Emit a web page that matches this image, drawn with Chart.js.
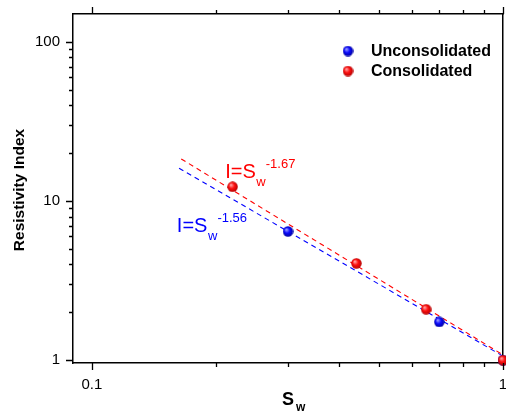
<!DOCTYPE html>
<html>
<head>
<meta charset="utf-8">
<script src="https://cdn.jsdelivr.net/npm/chart.js@4/dist/chart.umd.min.js"></script>
<style>
    html, body { margin: 0; padding: 0; background: #fff; overflow: hidden; }
    #wrap { width: 506px; height: 415px; }
    canvas { display: block; }
</style>
</head>
<body>
<div id="wrap"><canvas id="riChart"></canvas></div>
<script>
// Resistivity index vs water saturation (log-log)
const unconsolidatedSw = [0.30, 0.70, 1.0];
const unconsolidatedRI = [6.45, 1.74, 1.0];
const consolidatedSw = [0.22, 0.44, 0.65, 1.0];
const consolidatedRI = [12.3, 4.06, 2.09, 1.0];

// Power-law fit lines (end points)
const fitUnconSw = [0.163, 1.0];
const fitUnconRI = [16.1, 1.06];
const fitConSw = [0.165, 1.0];
const fitConRI = [18.4, 1.08];

// Tick values
const xTickValues = [0.1, 0.2, 0.3, 0.4, 0.5, 0.6, 0.7, 0.8, 0.9, 1];
const xTickLabels = [0.1, 1];
const yTickValues = [1, 2, 3, 4, 5, 6, 7, 8, 9, 10, 20, 30, 40, 50, 60, 70, 80, 90, 100];
const yTickLabels = [1, 10, 100];

const FONT = '"Liberation Sans", Arial, sans-serif';

// Small shaded ball used as point marker
function makeBall(base, light, dark) {
    const c = document.createElement('canvas');
    c.width = 11;
    c.height = 11;
    const g = c.getContext('2d');
    const grad = g.createRadialGradient(3.8, 3.6, 0.5, 5.5, 5.5, 5.5);
    grad.addColorStop(0, light);
    grad.addColorStop(0.45, base);
    grad.addColorStop(1, dark);
    g.fillStyle = grad;
    g.beginPath();
    g.arc(5.5, 5.5, 5.2, 0, Math.PI * 2);
    g.fill();
    return c;
}

const blueBall = makeBall('#0a0aff', '#9a9aff', '#00009a');
const redBall = makeBall('#ff1010', '#ffa0a0', '#b00000');

function toPoints(xs, ys) {
    return xs.map((x, i) => ({ x: x, y: ys[i] }));
}

// keep the plot box fixed, no extra room for edge labels
const noPadding = () => ({ left: 0, top: 0, right: 0, bottom: 0 });
function fixX(h) {
    return s => { s.height = h; s.paddingLeft = 0; s.paddingRight = 0; s.getPadding = noPadding; };
}
function fixY(w) {
    return s => { s.width = w; s.paddingTop = 0; s.paddingBottom = 0; s.getPadding = noPadding; };
}

// Ticks, legend, axis titles and fit labels
const decorPlugin = {
    id: 'decor',
    afterDraw(chart) {
        const ctx = chart.ctx;
        const area = chart.chartArea;
        const xs = chart.scales.x;
        const ys = chart.scales.y;
        ctx.save();
        ctx.strokeStyle = '#000';
        ctx.lineWidth = 1.3;
        ctx.beginPath();
        xTickValues.forEach(v => {
            const px = Math.round(xs.getPixelForValue(v)) + 0.5;
            const len = xTickLabels.includes(v) ? 7 : 4;
            ctx.moveTo(px, area.bottom);
            ctx.lineTo(px, area.bottom + len);
            ctx.moveTo(px, area.top);
            ctx.lineTo(px, area.top - len);
        });
        yTickValues.forEach(v => {
            const py = Math.round(ys.getPixelForValue(v)) + 0.5;
            const len = yTickLabels.includes(v) ? 7 : 4;
            ctx.moveTo(area.left, py);
            ctx.lineTo(area.left - len, py);
        });
        ctx.stroke();

        // legend
        const items = [chart.data.datasets[0], chart.data.datasets[1]];
        ctx.textBaseline = 'middle';
        ctx.font = 'bold 16px ' + FONT;
        ctx.fillStyle = '#000';
        items.forEach((ds, i) => {
            const y = 51 + i * 20;
            ctx.drawImage(ds.pointStyle, 348 - 5.5, y - 5.5);
            ctx.fillText(ds.label, 371, y + 1);
        });

        // y title
        ctx.save();
        ctx.translate(24, 190);
        ctx.rotate(-Math.PI / 2);
        ctx.textAlign = 'center';
        ctx.textBaseline = 'alphabetic';
        ctx.font = 'bold 15.5px ' + FONT;
        ctx.fillText('Resistivity Index', 0, 0);
        ctx.restore();

        // x title S_w
        ctx.textBaseline = 'alphabetic';
        ctx.textAlign = 'left';
        ctx.font = 'bold 18px ' + FONT;
        ctx.fillText('S', 282, 405);
        ctx.font = 'bold 12px ' + FONT;
        ctx.fillText('w', 296, 411);

        // fit equations
        drawEquation(ctx, xs.getPixelForValue(0.211), ys.getPixelForValue(13.95), '-1.67', '#ff0000');
        drawEquation(ctx, xs.getPixelForValue(0.161), ys.getPixelForValue(6.38), '-1.56', '#0000ff');
        ctx.restore();
    }
};

function drawEquation(ctx, x, y, exp, color) {
    ctx.fillStyle = color;
    ctx.textAlign = 'left';
    ctx.textBaseline = 'alphabetic';
    ctx.font = '20px ' + FONT;
    ctx.fillText('I=S', x, y);
    const w = ctx.measureText('I=S').width;
    ctx.font = '13px ' + FONT;
    ctx.fillText('w', x + w + 0.5, y + 7.5);
    ctx.fillText(exp, x + w + 10, y - 10);
}

const axisBorder = { display: true, color: '#000', width: 1.5 };

new Chart(document.getElementById('riChart'), {
    type: 'scatter',
    data: {
        datasets: [
            {
                label: 'Unconsolidated',
                data: toPoints(unconsolidatedSw, unconsolidatedRI),
                pointStyle: blueBall,
                order: 1
            },
            {
                label: 'Consolidated',
                data: toPoints(consolidatedSw, consolidatedRI),
                pointStyle: redBall,
                order: 0
            },
            {
                type: 'line',
                label: 'fit unconsolidated',
                data: toPoints(fitUnconSw, fitUnconRI),
                borderColor: '#0000ff',
                borderWidth: 1.1,
                borderDash: [5, 4],
                pointRadius: 0,
                fill: false,
                order: 3
            },
            {
                type: 'line',
                label: 'fit consolidated',
                data: toPoints(fitConSw, fitConRI),
                borderColor: '#ff0000',
                borderWidth: 1.1,
                borderDash: [5, 4],
                pointRadius: 0,
                fill: false,
                order: 2
            }
        ]
    },
    options: {
        responsive: true,
        maintainAspectRatio: false,
        animation: false,
        clip: false,
        // no automatic room for point overflow at the edges
        layout: { padding: 0, autoPadding: false },
        plugins: {
            legend: { display: false },
            tooltip: { enabled: false }
        },
        scales: {
            x: {
                type: 'logarithmic',
                position: 'bottom',
                min: 0.09,
                max: 1,
                grid: { display: false, drawTicks: false },
                border: axisBorder,
                afterBuildTicks: s => { s.ticks = xTickValues.map(v => ({ value: v })); },
                afterFit: fixX(52),
                ticks: {
                    autoSkip: false,
                    maxRotation: 0,
                    padding: 13,
                    color: '#000',
                    font: { family: FONT, size: 15 },
                    callback: v => xTickLabels.includes(v) ? String(v) : ''
                }
            },
            x2: {
                type: 'logarithmic',
                position: 'top',
                min: 0.09,
                max: 1,
                grid: { display: false, drawTicks: false },
                border: axisBorder,
                ticks: { display: false },
                afterFit: fixX(14)
            },
            y: {
                type: 'logarithmic',
                position: 'left',
                min: 0.96,
                max: 150,
                grid: { display: false, drawTicks: false },
                border: axisBorder,
                afterBuildTicks: s => { s.ticks = yTickValues.map(v => ({ value: v })); },
                afterFit: fixY(73),
                ticks: {
                    autoSkip: false,
                    padding: 13,
                    color: '#000',
                    font: { family: FONT, size: 15 },
                    callback: v => yTickLabels.includes(v) ? String(v) : ''
                }
            },
            y2: {
                type: 'logarithmic',
                position: 'right',
                min: 0.96,
                max: 150,
                grid: { display: false, drawTicks: false },
                border: axisBorder,
                ticks: { display: false },
                afterFit: fixY(3)
            }
        }
    },
    plugins: [decorPlugin]
});
</script>
</body>
</html>
